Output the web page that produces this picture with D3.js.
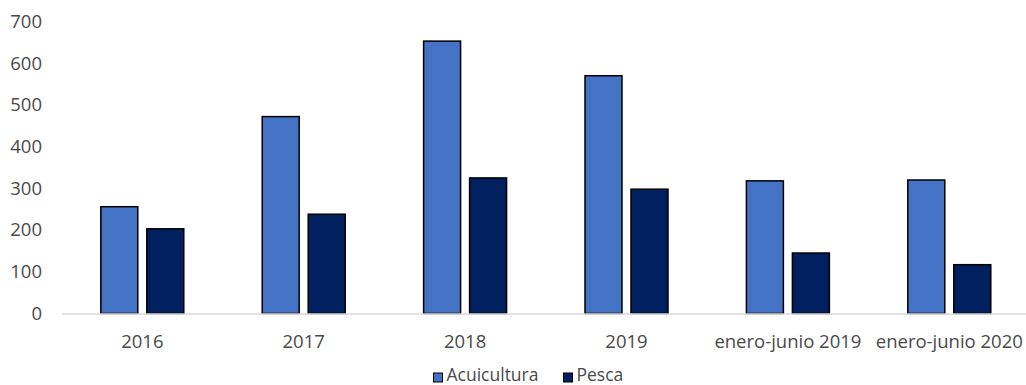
<!DOCTYPE html>
<html>
<head>
<meta charset="utf-8">
<script src="https://cdn.jsdelivr.net/npm/d3@7"></script>
<style>
  html, body { margin: 0; padding: 0; background: #fff; }
  svg { display: block; }
</style>
</head>
<body>
<svg id="chart" width="1026" height="385"></svg>
<script>
const categories = ["2016", "2017", "2018", "2019", "enero-junio 2019", "enero-junio 2020"];
const seriesNames = ["Acuicultura", "Pesca"];
const acuicultura = [256, 472, 653, 570, 318, 320];
const pesca = [203, 238, 325, 298, 145, 117];
const yTicks = [0, 100, 200, 300, 400, 500, 600, 700];
const colors = ["#4472C4", "#002060"];

const values = [acuicultura, pesca];
const svg = d3.select("#chart");
const font = "'Open Sans', 'Noto Sans', sans-serif";
const textColor = "#4a4a4a";

const y = d3.scaleLinear().domain([0, 700]).range([313.5, 21.5]);
const x0 = d3.scaleBand().domain(categories).range([61.6, 1030]).padding(0);
const groupL = x0.bandwidth() * 0.2429, groupR = x0.bandwidth() * 0.757;
const x1 = d3.scaleBand().domain(seriesNames).range([groupL, groupR]).paddingInner(0.196).paddingOuter(0);

// y axis labels
const yAxis = d3.axisLeft(y).tickValues(yTicks).tickSize(0).tickPadding(0);
const gy = svg.append("g").attr("transform", "translate(42,0)").call(yAxis);
gy.select(".domain").remove();
gy.selectAll("text").attr("font-family", font).attr("font-size", 18.5).attr("fill", textColor);

// bars
const groups = svg.append("g").selectAll("g")
  .data(categories).join("g")
  .attr("transform", d => `translate(${x0(d)},0)`);
groups.selectAll("rect")
  .data((d, i) => seriesNames.map((s, j) => ({ s, v: values[j][i], j })))
  .join("rect")
  .attr("x", d => x1(d.s))
  .attr("y", d => y(d.v))
  .attr("width", x1.bandwidth())
  .attr("height", d => y(0) - y(d.v))
  .attr("fill", d => colors[d.j])
  .attr("stroke", "#000")
  .attr("stroke-width", 1.5);

// x axis
const xAxis = d3.axisBottom(x0).tickSize(0).tickPadding(0);
const gx = svg.append("g").attr("transform", `translate(0,${y(0)})`).call(xAxis);
gx.select(".domain").remove();
gx.selectAll("text").attr("font-family", font).attr("font-size", 18.5).attr("fill", textColor)
  .attr("dy", null).attr("y", 34);
svg.append("line")
  .attr("x1", 62).attr("x2", 1026)
  .attr("y1", y(0) + 0.5).attr("y2", y(0) + 0.5)
  .attr("stroke", "#d9d9d9").attr("stroke-width", 1.5);

// legend
const legendX = [433.5, 563.5];
const leg = svg.append("g");
seriesNames.forEach((s, i) => {
  leg.append("rect").attr("x", legendX[i]).attr("y", 373)
    .attr("width", 9).attr("height", 9)
    .attr("fill", colors[i]).attr("stroke", "#000").attr("stroke-width", 1);
  leg.append("text").attr("x", legendX[i] + 13).attr("y", 381)
    .attr("font-family", font).attr("font-size", 17.5).attr("fill", textColor).text(s);
});
</script>
</body>
</html>
